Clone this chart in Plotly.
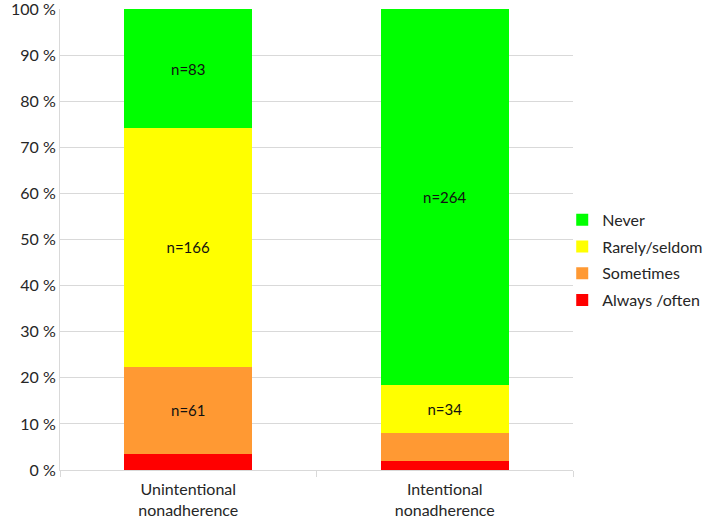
import plotly.graph_objects as go

categories = ["Unintentional<br>nonadherence", "Intentional<br>nonadherence"]
series_names = ["Always /often", "Sometimes", "Rarely/seldom", "Never"]
always_often = [11, 6]
sometimes = [61, 20]
rarely = [166, 34]
never = [83, 264]
labels_always = ["", ""]
labels_sometimes = ["n=61", ""]
labels_rarely = ["n=166", "n=34"]
labels_never = ["n=83", "n=264"]
colors = ["#ff0000", "#ff9933", "#ffff00", "#00ff00"]

values = [always_often, sometimes, rarely, never]
labels = [labels_always, labels_sometimes, labels_rarely, labels_never]

FONT = "Lato, Open Sans, sans-serif"

fig = go.Figure()
n = len(series_names)
for i, (name, vals, txt, col) in enumerate(zip(series_names, values, labels, colors)):
    fig.add_trace(go.Bar(
        x=categories, y=vals, name=name, legendgroup=name,
        legendrank=1000 - i,
        marker=dict(color=col, line=dict(width=0)),
        text=txt, textposition="inside", insidetextanchor="middle",
        textfont=dict(family=FONT, size=15, color="#111111"),
        textangle=0, hoverinfo="skip",
    ))

fig.update_layout(
    barmode="stack", barnorm="percent", bargap=0.5,
    width=709, height=521,
    margin=dict(l=60, r=136, t=9, b=51, autoexpand=False),
    paper_bgcolor="white", plot_bgcolor="white",
    font=dict(family=FONT, size=16, color="#262626"),
    legend=dict(
        traceorder="grouped", x=0.979, xanchor="left", y=0.455, yanchor="middle",
        font=dict(size=16, color="#262626"), itemwidth=30, tracegroupgap=3,
        bgcolor="rgba(0,0,0,0)",
    ),
    showlegend=True,
)
fig.update_yaxes(
    range=[0, 100], dtick=10, ticksuffix=" %", showgrid=True, gridcolor="#d9d9d9",
    gridwidth=1, showline=True, linecolor="#d9d9d9", linewidth=1, zeroline=False,
    ticks="", tickfont=dict(size=16, color="#262626"), automargin=False,
    ticklabeloverflow="allow",
)
fig.update_xaxes(
    showline=True, linecolor="#d9d9d9", linewidth=1, ticks="outside",
    tickson="boundaries", ticklen=6, tickcolor="#d9d9d9",
    tickfont=dict(size=16, color="#262626"), automargin=False,
    ticklabelstandoff=5,
)

fig.write_html("out.html", config={"displayModeBar": False},
               post_script="document.body.style.margin='0';")
